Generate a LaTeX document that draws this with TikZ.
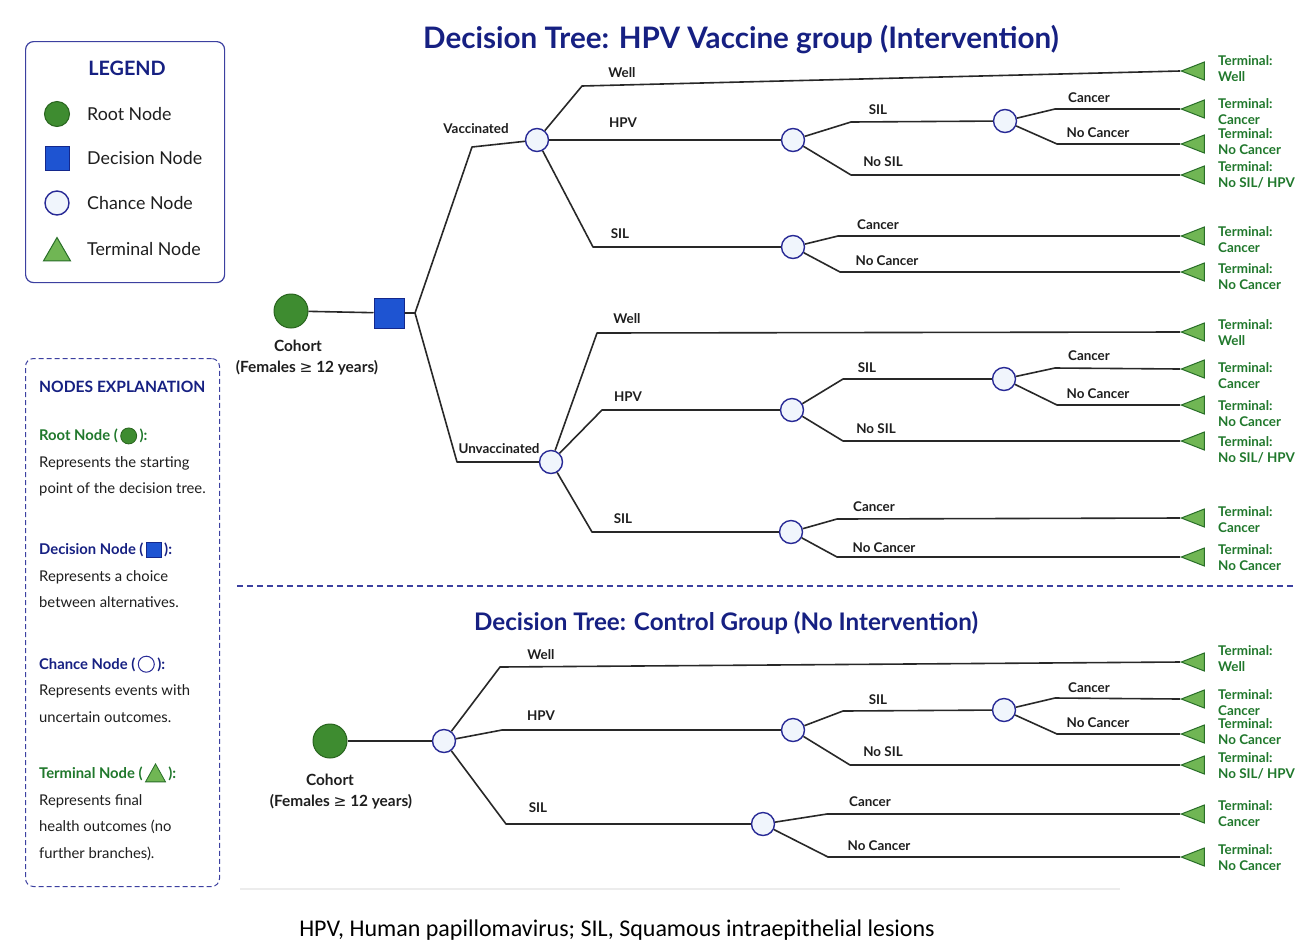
\documentclass[tikz,border=0pt]{standalone}
\usepackage{fontspec}
\setmainfont{Lato}
\newfontfamily\dejavu{DejaVu Sans}
\newfontfamily\carlito{Carlito}
\usetikzlibrary{shapes.geometric}
\definecolor{navy}{RGB}{22,32,130}
\definecolor{navyb}{RGB}{60,64,160}
\definecolor{rootf}{RGB}{62,140,48}
\definecolor{rootb}{RGB}{40,100,30}
\definecolor{decf}{RGB}{30,84,210}
\definecolor{decb}{RGB}{20,40,140}
\definecolor{chf}{RGB}{240,245,252}
\definecolor{chb}{RGB}{40,42,150}
\definecolor{trif}{RGB}{112,182,84}
\definecolor{trib}{RGB}{40,110,40}
\definecolor{termtxt}{RGB}{32,120,44}
\definecolor{linec}{RGB}{40,40,40}
\definecolor{txt}{RGB}{30,30,30}
\newcommand\brfont{\fontsize{13.4}{16}\selectfont\bfseries}
\newcommand\legfont{\fontsize{17.8}{20}\selectfont}
\newcommand\expfont{\fontsize{14.8}{26.5}\selectfont}
\newcommand\symroot{\,\tikz[baseline=-5pt]\draw[draw=rootb, fill=rootf, line width=0.8pt] (0,0) circle (8pt);\,}
\newcommand\symdec{\,\tikz[baseline=-5pt]\draw[draw=decb, fill=decf, line width=0.8pt] (-7.5pt,-7.5pt) rectangle (7.5pt,7.5pt);\,}
\newcommand\symch{\,\tikz[baseline=-5pt]\draw[draw=chb, fill=white, line width=1pt] (0,0) circle (8pt);\,}
\newcommand\symtri{\,\tikz[baseline=-5pt]\draw[draw=trib, fill=trif, line width=0.8pt] (-10pt,-8pt) -- (10pt,-8pt) -- (0pt,10pt) -- cycle;\,}
\tikzset{
  br/.style={draw=linec, line width=1.6pt, line join=round},
  rootnode/.style={circle, draw=rootb, fill=rootf, line width=1pt, minimum size=34pt, inner sep=0},
  decnode/.style={rectangle, draw=decb, fill=decf, line width=1pt, minimum size=30pt, inner sep=0},
  chnode/.style={circle, draw=chb, fill=chf, line width=1.4pt, minimum size=23pt, inner sep=0},
  termnode/.style={isosceles triangle, isosceles triangle stretches, shape border rotate=180,
     draw=trib, fill=trif, line width=1pt, minimum width=18pt, minimum height=23pt, inner sep=0, anchor=apex},
  lbl/.style={font=\brfont, text=txt, inner sep=0},
  tlbl/.style={font=\brfont, text=termtxt, align=left, anchor=west, inner sep=0},
  cohort/.style={font=\fontsize{15.4}{17}\selectfont\bfseries, text=txt, inner sep=0},
  legtxt/.style={font=\legfont, text=txt, anchor=west, inner sep=0},
  exptxt/.style={font=\expfont, text=txt, anchor=west, align=left, inner sep=0},
}
\begin{document}
\begin{tikzpicture}[x=1pt,y=-1pt]
\useasboundingbox (0,0) rectangle (1297,943);
\fill[white] (0,0) rectangle (1297,943);

% ---------- Legend ----------
\node[draw=navyb, rounded corners=8pt, line width=1.2pt, minimum width=199pt, minimum height=241pt, anchor=north west] (legbox) at (25,41) {};
\node[font=\fontsize{19.8}{22}\selectfont\bfseries, text=navy] (legtitle) at (127,68) {LEGEND};
\node[circle, draw=rootb, fill=rootf, line width=1pt, minimum size=25pt, inner sep=0] (lroot) at (57,114) {};
\node[rectangle, draw=decb, fill=decf, line width=1pt, minimum size=24pt, inner sep=0] (ldec) at (57,158) {};
\node[circle, draw=chb, fill=chf, line width=1.4pt, minimum size=24pt, inner sep=0] (lch) at (57,203) {};
\node[regular polygon, regular polygon sides=3, draw=trib, fill=trif, line width=1pt, minimum size=31pt, inner sep=0] (ltri) at (57,253) {};
\node[legtxt] (lt1) at (87,114) {Root Node};
\node[legtxt] (lt2) at (87,158) {Decision Node};
\node[legtxt] (lt3) at (87,203) {Chance Node};
\node[legtxt] (lt4) at (87,249) {Terminal Node};

% ---------- Nodes explanation ----------
\node[draw=navyb, dash pattern=on 5pt off 3pt, rounded corners=8pt, line width=1pt, minimum width=194pt, minimum height=528pt, anchor=north west] (expbox) at (25,358) {};
\node[font=\fontsize{15.6}{18}\selectfont\bfseries, text=navy, anchor=west, inner sep=0] (exptitle) at (39,387) {NODES EXPLANATION};
\node[exptxt] (e1) at (39,462) {{\bfseries\color{termtxt}Root Node (\symroot):}\\Represents the starting\\point of the decision tree.};
\node[exptxt] (e2) at (39,575) {{\bfseries\color{navy}Decision Node (\symdec):}\\Represents a choice\\between alternatives.};
\node[exptxt] (e3) at (39,689) {{\bfseries\color{navy}Chance Node (\symch):}\\Represents events with\\uncertain outcomes.};
\node[exptxt] (e4) at (39,812) {{\bfseries\color{termtxt}Terminal Node (\symtri):}\\Represents final\\health outcomes (no\\further branches).};

% ---------- Titles ----------
\node[font=\fontsize{29.6}{32}\selectfont\bfseries, text=navy] (title1) at (741,40) {Decision Tree: HPV Vaccine group (Intervention)};
\node[font=\fontsize{24.2}{27}\selectfont\bfseries, text=navy] (title2) at (726,623) {Decision Tree: Control Group (No Intervention)};

% ---------- Separator ----------
\draw[navyb, line width=1.3pt, dash pattern=on 6pt off 4pt] (237,586) -- (1297,586);
\draw[gray!15, line width=1.5pt] (240,889) -- (1120,889);

% ---------- Top tree ----------
\node[rootnode] (root1) at (291,311) {};
\node[decnode] (dec) at (389,313) {};
\coordinate (j1) at (415,313);
\node[chnode] (V) at (537,140) {};
\node[chnode] (U) at (551,462) {};
\node[chnode] (H1) at (793,140) {};
\node[chnode] (H1S) at (1005,121) {};
\node[chnode] (S1) at (793,247) {};
\node[chnode] (H2) at (792,410) {};
\node[chnode] (H2S) at (1004,379) {};
\node[chnode] (S2) at (791,532) {};

\node[termnode] (t1) at (1180,71) {};
\node[termnode] (t2) at (1180,109) {};
\node[termnode] (t3) at (1180,144) {};
\node[termnode] (t4) at (1180,175) {};
\node[termnode] (t5) at (1180,236) {};
\node[termnode] (t6) at (1180,272) {};
\node[termnode] (t7) at (1180,332) {};
\node[termnode] (t8) at (1180,369) {};
\node[termnode] (t9) at (1180,405) {};
\node[termnode] (t10) at (1180,441) {};
\node[termnode] (t11) at (1180,518) {};
\node[termnode] (t12) at (1180,557) {};

\draw[br] (root1) -- (dec);
\draw[br] (dec.east) -- (j1) -- (472,147) -- (V);
\draw[br] (j1) -- (457,462) -- (U);
\draw[br] (V) -- (582,86) -- (t1.apex);
\draw[br] (V) -- (H1);
\draw[br] (V) -- (593,247) -- (S1);
\draw[br] (H1) -- (851,122) -- (H1S);
\draw[br] (H1) -- (851,175) -- (t4.apex);
\draw[br] (H1S) -- (1055,109) -- (t2.apex);
\draw[br] (H1S) -- (1057,144) -- (t3.apex);
\draw[br] (S1) -- (838,236) -- (t5.apex);
\draw[br] (S1) -- (840,272) -- (t6.apex);
\draw[br] (U) -- (597,333) -- (t7.apex);
\draw[br] (U) -- (602,410) -- (H2);
\draw[br] (U) -- (592,532) -- (S2);
\draw[br] (H2) -- (843,379) -- (H2S);
\draw[br] (H2) -- (843,441) -- (t10.apex);
\draw[br] (H2S) -- (1055,368) -- (t8.apex);
\draw[br] (H2S) -- (1057,405) -- (t9.apex);
\draw[br] (S2) -- (837,519) -- (t11.apex);
\draw[br] (S2) -- (837,557) -- (t12.apex);

\node[cohort] (c1a) at (298,346) {Cohort};
\node[cohort] (c1b) at (307,368) {(Females {\dejavu\mdseries ≥} 12 years)};

\node[lbl] (l1) at (476,129) {Vaccinated};
\node[lbl] (l2) at (622,73) {Well};
\node[lbl] (l3) at (623,123) {HPV};
\node[lbl] (l4) at (620,234) {SIL};
\node[lbl] (l5) at (878,110) {SIL};
\node[lbl] (l6) at (883,162) {No SIL};
\node[lbl] (l7) at (1089,98) {Cancer};
\node[lbl] (l8) at (1098,133) {No Cancer};
\node[lbl] (l9) at (878,225) {Cancer};
\node[lbl] (l10) at (887,261) {No Cancer};
\node[lbl] (l11) at (499,449) {Unvaccinated};
\node[lbl] (l12) at (627,319) {Well};
\node[lbl] (l13) at (628,397) {HPV};
\node[lbl] (l14) at (623,519) {SIL};
\node[lbl] (l15) at (867,368) {SIL};
\node[lbl] (l16) at (876,429) {No SIL};
\node[lbl] (l17) at (1089,356) {Cancer};
\node[lbl] (l18) at (1098,394) {No Cancer};
\node[lbl] (l19) at (874,507) {Cancer};
\node[lbl] (l20) at (884,548) {No Cancer};

\node[tlbl] (tl1) at (1218,69) {Terminal:\\Well};
\node[tlbl] (tl2) at (1218,112) {Terminal:\\Cancer};
\node[tlbl] (tl3) at (1218,142) {Terminal:\\No Cancer};
\node[tlbl] (tl4) at (1218,175) {Terminal:\\No SIL/ HPV};
\node[tlbl] (tl5) at (1218,240) {Terminal:\\Cancer};
\node[tlbl] (tl6) at (1218,277) {Terminal:\\No Cancer};
\node[tlbl] (tl7) at (1218,333) {Terminal:\\Well};
\node[tlbl] (tl8) at (1218,376) {Terminal:\\Cancer};
\node[tlbl] (tl9) at (1218,414) {Terminal:\\No Cancer};
\node[tlbl] (tl10) at (1218,450) {Terminal:\\No SIL/ HPV};
\node[tlbl] (tl11) at (1218,520) {Terminal:\\Cancer};
\node[tlbl] (tl12) at (1218,558) {Terminal:\\No Cancer};

% ---------- Control tree ----------
\node[rootnode] (root2) at (330,741) {};
\node[chnode] (C) at (444,741) {};
\node[chnode] (H3) at (793,730) {};
\node[chnode] (H3S) at (1004,710) {};
\node[chnode] (S3) at (763,824) {};

\node[termnode] (t13) at (1180,662) {};
\node[termnode] (t14) at (1180,699) {};
\node[termnode] (t15) at (1180,734) {};
\node[termnode] (t16) at (1180,765) {};
\node[termnode] (t17) at (1180,814) {};
\node[termnode] (t18) at (1180,857) {};

\draw[br] (root2) -- (C);
\draw[br] (C) -- (500,667) -- (t13.apex);
\draw[br] (C) -- (502,730) -- (H3);
\draw[br] (C) -- (506,824) -- (S3);
\draw[br] (H3) -- (843,711) -- (H3S);
\draw[br] (H3) -- (850,765) -- (t16.apex);
\draw[br] (H3S) -- (1055,698) -- (t14.apex);
\draw[br] (H3S) -- (1057,734) -- (t15.apex);
\draw[br] (S3) -- (827,814) -- (t17.apex);
\draw[br] (S3) -- (828,857) -- (t18.apex);

\node[cohort] (c2a) at (330,780) {Cohort};
\node[cohort] (c2b) at (341,802) {(Females {\dejavu\mdseries ≥} 12 years)};

\node[lbl] (m1) at (541,655) {Well};
\node[lbl] (m2) at (541,716) {HPV};
\node[lbl] (m3) at (538,808) {SIL};
\node[lbl] (m4) at (878,700) {SIL};
\node[lbl] (m5) at (883,752) {No SIL};
\node[lbl] (m6) at (1089,688) {Cancer};
\node[lbl] (m7) at (1098,723) {No Cancer};
\node[lbl] (m8) at (870,802) {Cancer};
\node[lbl] (m9) at (879,846) {No Cancer};

\node[tlbl] (tm1) at (1218,659) {Terminal:\\Well};
\node[tlbl] (tm2) at (1218,703) {Terminal:\\Cancer};
\node[tlbl] (tm3) at (1218,732) {Terminal:\\No Cancer};
\node[tlbl] (tm4) at (1218,766) {Terminal:\\No SIL/ HPV};
\node[tlbl] (tm5) at (1218,814) {Terminal:\\Cancer};
\node[tlbl] (tm6) at (1218,858) {Terminal:\\No Cancer};

% ---------- Footnote ----------
\node[font=\carlito\fontsize{24}{26}\selectfont, text=black] (foot) at (617,930) {HPV, Human papillomavirus; SIL, Squamous intraepithelial lesions};
\end{tikzpicture}
\end{document}
